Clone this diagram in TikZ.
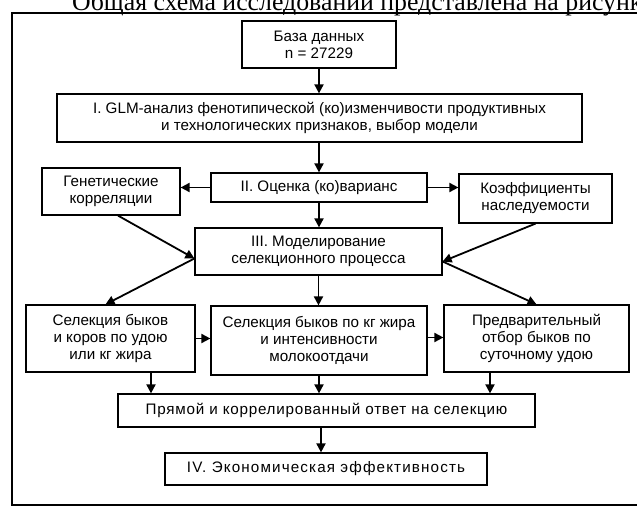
\documentclass[tikz,border=0pt]{standalone}
\usepackage{fontspec}
\setmainfont{Liberation Sans}
\newfontfamily\serifcap{Liberation Serif}
\newfontfamily\widesans[LetterSpace=5]{Liberation Sans}
\newfontfamily\widersans[LetterSpace=7.5]{Liberation Sans}
\usetikzlibrary{arrows.meta}
\begin{document}
\begin{tikzpicture}[x=1pt,y=-1pt,
  box/.style={draw, line width=1.2pt, align=center, inner sep=0pt, font=\fontsize{15.2}{17}\selectfont},
  arr/.style={line width=1.8pt, -{Triangle[length=9pt,width=9pt]}},
]
\useasboundingbox (0,0) rectangle (637,510);
\clip (0,0) rectangle (637,510);
\fill[white] (0,0) rectangle (637,510);
\node[anchor=base west, font=\serifcap\fontsize{25.8}{26}\selectfont, inner sep=0pt] (title) at (72,10.5) {Общая схема исследований представлена на рисунке};
\draw[line width=1.4pt] (637,13) -- (12,13) -- (12,505) -- (637,505);

\node[box, minimum width=154pt, minimum height=47pt] (db) at (319,44.5) {База данных\\n = 27229};
\node[box, minimum width=525pt, minimum height=48pt] (s1) at (319.5,118) {I. GLM-анализ фенотипической (ко)изменчивости продуктивных\\и технологических признаков, выбор модели};
\node[box, minimum width=138pt, minimum height=47pt] (gen) at (111,191.5) {Генетические\\корреляции};
\node[box, minimum width=216pt, minimum height=29pt] (s2) at (319,187.5) {II. Оценка (ко)варианс};
\node[box, minimum width=153pt, minimum height=49pt] (koef) at (535.5,198.5) {Коэффициенты\\наследуемости};
\node[box, minimum width=247pt, minimum height=47pt] (s3) at (318.5,251.5) {III. Моделирование\\селекционного процесса};
\node[box, minimum width=169pt, minimum height=67pt] (a) at (110.5,338.5) {Селекция быков\\и коров по удою\\или кг жира};
\node[box, minimum width=216pt, minimum height=69pt] (b) at (319,340.5) {Селекция быков по кг жира\\и интенсивности\\молокоотдачи};
\node[box, minimum width=185pt, minimum height=67pt] (c) at (536.5,338.5) {Предварительный\\отбор быков по\\суточному удою};
\node[box, minimum width=417pt, minimum height=33pt, font=\widesans\fontsize{15.2}{17}\selectfont] (pr) at (326.5,410.5) {Прямой и коррелированный ответ на селекцию};
\node[box, minimum width=322pt, minimum height=32pt, font=\widersans\fontsize{15.2}{17}\selectfont] (s4) at (326,469) {IV. Экономическая эффективность};

\coordinate (l3) at ([yshift=-7pt]s3.west);
\coordinate (r3) at ([yshift=-10pt]s3.east);
\coordinate (ap) at ([xshift=40.5pt]a.south);
\coordinate (cp) at ([xshift=-46.5pt]c.south);
\coordinate (pp) at ([xshift=-5.5pt]pr.south);
\coordinate (bc) at ([yshift=3pt]b.east);

\draw[arr] (db.south) -- (db.south |- s1.north);
\draw[arr] (s2.north |- s1.south) -- (s2.north);
\draw[arr] (s2.south) -- (s2.south |- s3.north);
\draw[arr] (s2.west) -- (s2.west -| gen.east);
\draw[arr] (s2.east) -- (s2.east -| koef.west);
\draw[arr] ([xshift=7pt]gen.south) -- (l3);
\draw[arr] (koef.south) -- (r3);
\draw[arr] (l3) -- ([xshift=-5pt]a.north);
\draw[arr] (r3) -- (c.north);
\draw[arr] (s3.south) -- (s3.south |- b.north);
\draw[arr] (a.east) -- (a.east -| b.west);
\draw[arr] (bc) -- (bc -| c.west);
\draw[arr] (ap) -- (ap |- pr.north);
\draw[arr] (b.south) -- (b.south |- pr.north);
\draw[arr] (cp) -- (cp |- pr.north);
\draw[arr] (pp) -- (pp |- s4.north);
\end{tikzpicture}
\end{document}
